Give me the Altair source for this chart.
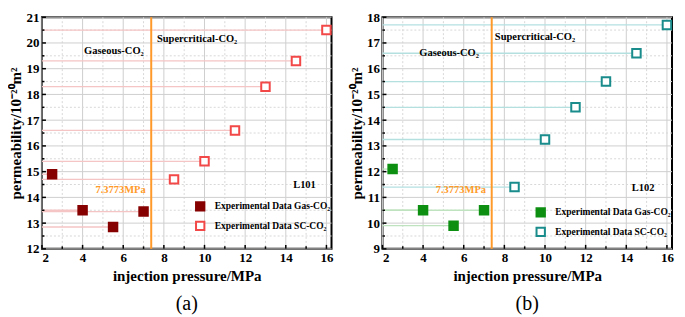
import altair as alt
import pandas as pd

# ---------------- data ----------------
pressure_gas = [2.5, 4.0, 5.5, 7.0]
pressure_sc = [8.5, 10.0, 11.5, 13.0, 14.5, 16.0]

perm_a_gas = [14.9, 13.5, 12.85, 13.45]
perm_a_sc = [14.7, 15.4, 16.6, 18.3, 19.3, 20.5]

perm_b_gas = [12.1, 10.5, 9.9, 10.5]
perm_b_sc = [11.4, 13.25, 14.5, 15.5, 16.6, 17.7]

critical_pressure = 7.3773
series_names = ["Experimental Data Gas-CO\u2082", "Experimental Data SC-CO\u2082"]

x_major = [2, 4, 6, 8, 10, 12, 14, 16]
x_minor = [3, 5, 7, 9, 11, 13, 15]
y_major_a = [12, 13, 14, 15, 16, 17, 18, 19, 20, 21]
y_minor_a = [12.5, 13.5, 14.5, 15.5, 16.5, 17.5, 18.5, 19.5, 20.5]
y_major_b = [9, 10, 11, 12, 13, 14, 15, 16, 17, 18]
y_minor_b = [9.5, 10.5, 11.5, 12.5, 13.5, 14.5, 15.5, 16.5, 17.5]

# annotation anchors (data coords)
ann_a = {"gas": (5.54, 19.67), "sc": (7.66, 20.15), "crit": (5.87, 14.3), "id": (14.92, 14.47), "name": "L101"}
ann_b = {"gas": (5.28, 16.6), "sc": (7.53, 17.25), "crit": (5.86, 11.3), "id": (14.83, 11.36), "name": "L102"}

FONT = "Liberation Serif"
W, H = 290, 232


def panel(gas_y, sc_y, ydom, y_major, y_minor, ann, colors, caption, legend_y):
    gas_c, sc_c, gas_line, sc_line = colors
    xs = alt.Scale(domain=[2, 16.25], nice=False, zero=False)
    ys = alt.Scale(domain=ydom, nice=False, zero=False)

    xaxis = alt.Axis(values=x_major, grid=False, ticks=False, labelOverlap=False,
                     title="injection pressure/MPa")
    yaxis = alt.Axis(values=y_major, grid=False, ticks=False, labelOverlap=False,
                     title="permeability/10\u207b\u00b2\u2070m\u00b2")

    def X(f):
        return alt.X(f, scale=xs, axis=xaxis)

    def Y(f):
        return alt.Y(f, scale=ys, axis=yaxis)

    # grid lines
    gx_major = alt.Chart(pd.DataFrame({"v": x_major})).mark_rule(color="#cfcfcf", strokeWidth=1).encode(x=X("v:Q"))
    gx_minor = alt.Chart(pd.DataFrame({"v": x_minor})).mark_rule(color="#d8d8d8", strokeWidth=1, strokeDash=[2, 2]).encode(x=X("v:Q"))
    gy_major = alt.Chart(pd.DataFrame({"v": y_major})).mark_rule(color="#cfcfcf", strokeWidth=1).encode(y=Y("v:Q"))
    gy_minor = alt.Chart(pd.DataFrame({"v": y_minor})).mark_rule(color="#d8d8d8", strokeWidth=1, strokeDash=[2, 2]).encode(y=Y("v:Q"))

    # inward ticks
    tx_major = alt.Chart(pd.DataFrame({"v": x_major})).mark_rule(color="black", strokeWidth=1.5).encode(
        x=X("v:Q"), y=alt.value(H), y2=alt.value(H - 4))
    tx_minor = alt.Chart(pd.DataFrame({"v": x_minor})).mark_rule(color="black", strokeWidth=1.5).encode(
        x=X("v:Q"), y=alt.value(H), y2=alt.value(H - 2.5))
    ty_major = alt.Chart(pd.DataFrame({"v": y_major})).mark_rule(color="black", strokeWidth=1.5).encode(
        y=Y("v:Q"), x=alt.value(0), x2=alt.value(4))
    ty_minor = alt.Chart(pd.DataFrame({"v": y_minor})).mark_rule(color="black", strokeWidth=1.5).encode(
        y=Y("v:Q"), x=alt.value(0), x2=alt.value(2.5))

    gas_df = pd.DataFrame({"x": pressure_gas, "y": gas_y, "series": series_names[0]})
    sc_df = pd.DataFrame({"x": pressure_sc, "y": sc_y, "series": series_names[1]})
    pts = pd.concat([gas_df, sc_df], ignore_index=True)

    ref_gas = alt.Chart(gas_df).mark_rule(strokeWidth=1.3, color=gas_line).encode(
        x=X("x:Q"), x2=alt.value(0), y=Y("y:Q"))
    ref_sc = alt.Chart(sc_df).mark_rule(strokeWidth=1.3, color=sc_line).encode(
        x=X("x:Q"), x2=alt.value(0), y=Y("y:Q"))
    crit = alt.Chart(pd.DataFrame({"p": [critical_pressure]})).mark_rule(
        color="#ff9a2a", strokeWidth=2).encode(x=X("p:Q"))

    leg = dict(title=None, orient="none", legendX=153, legendY=legend_y,
               labelFont=FONT, labelFontWeight="bold", labelFontSize=9.5,
               labelColor="black", symbolType="square", symbolSize=70,
               symbolStrokeWidth=2, rowPadding=2.5, padding=0, labelOffset=9)
    points = alt.Chart(pts).mark_point(shape="square", size=72, strokeWidth=2, opacity=1, fillOpacity=1).encode(
        x=X("x:Q"),
        y=Y("y:Q"),
        fill=alt.Fill("series:N", scale=alt.Scale(domain=series_names, range=[gas_c, "white"]),
                      legend=alt.Legend(**leg)),
        stroke=alt.Stroke("series:N", scale=alt.Scale(domain=series_names, range=[gas_c, sc_c]),
                          legend=alt.Legend(**leg)),
    )

    txt = pd.DataFrame({
        "x": [ann["gas"][0], ann["crit"][0], ann["id"][0]],
        "y": [ann["gas"][1], ann["crit"][1], ann["id"][1]],
        "t": ["Gaseous-CO\u2082", "7.3773MPa", ann["name"]],
        "c": ["black", "#ff9a2a", "black"],
    })
    texts = alt.Chart(txt).mark_text(font=FONT, fontWeight="bold", fontSize=10.5, align="center", baseline="middle").encode(
        x=X("x:Q"), y=Y("y:Q"), text="t:N", color=alt.Color("c:N", scale=None))
    sc_txt = alt.Chart(pd.DataFrame({"x": [ann["sc"][0]], "y": [ann["sc"][1]], "t": ["Supercritical-CO\u2082"]})).mark_text(
        font=FONT, fontWeight="bold", fontSize=10.5, align="left", baseline="middle", color="black"
    ).encode(x=X("x:Q"), y=Y("y:Q"), text="t:N")

    return alt.layer(gx_major, gx_minor, gy_major, gy_minor, ref_gas, ref_sc, crit,
                     tx_major, tx_minor, ty_major, ty_minor, points, texts, sc_txt).properties(
        width=W, height=H,
        title=alt.TitleParams(caption, orient="bottom", font=FONT, fontSize=20, fontWeight="normal",
                              color="black", offset=10),
    )


pa = panel(perm_a_gas, perm_a_sc, [12, 21], y_major_a, y_minor_a, ann_a,
           ("#860000", "#f24848", "#f5c4c4", "#f5c4c4"), "(a)", 184)
pb = panel(perm_b_gas, perm_b_sc, [9, 18], y_major_b, y_minor_b, ann_b,
           ("#0d8f12", "#1a8c8c", "#bfe3bf", "#b5e0e0"), "(b)", 190)

chart = alt.hconcat(pa, pb, spacing=12).resolve_scale(
    x="independent", y="independent", fill="independent", stroke="independent"
).resolve_legend(fill="independent", stroke="independent").configure_view(
    stroke="black", strokeWidth=2
).configure_axis(
    labelFont=FONT, labelFontWeight="bold", labelFontSize=13, labelColor="black", labelPadding=3,
    titleFont=FONT, titleFontWeight="bold", titleFontSize=15, titleColor="black", titlePadding=4,
    domain=False,
).configure_axisY(titlePadding=2).properties(padding={"left": 0, "top": 2, "right": 0, "bottom": 0})

chart.save("out.html", embed_options={"renderer": "svg", "actions": False})
